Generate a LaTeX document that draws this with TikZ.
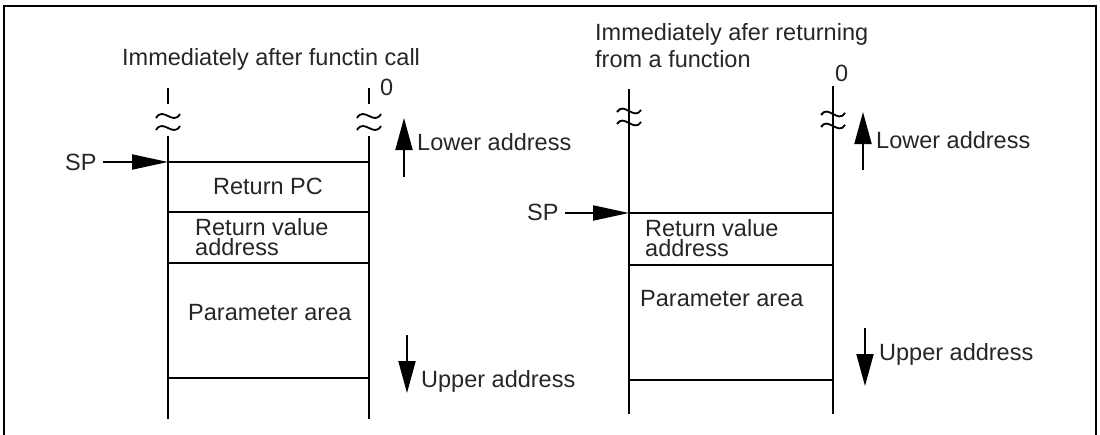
\documentclass[tikz,border=0pt]{standalone}
\usepackage{fontspec}
\setmainfont{Liberation Sans}
\usetikzlibrary{arrows.meta}
\begin{document}
\begin{tikzpicture}[x=1pt,y=-1pt,
  txt/.style={inner sep=0pt,anchor=base west,font=\fontsize{23.5}{20}\selectfont,text=black!85},
  mtxt/.style={inner sep=0pt,anchor=base west,align=left,font=\fontsize{23.5}{20}\selectfont,text=black!85},
  ctxt/.style={inner sep=0pt,anchor=base,font=\fontsize{23.5}{20}\selectfont,text=black!85},
  wall/.style={line width=2pt},
  rule/.style={line width=1.8pt},
  wav/.style={line width=1.8pt},
  bigarrow/.style={line width=2pt,-{Triangle[length=36pt,width=15pt]}},
  tinyarrow/.style={line width=2pt,-{Triangle[length=32pt,width=17pt]}}]
\useasboundingbox (0,0) rectangle (1100,434);
% frame
\coordinate (f1) at (4,440);
\coordinate (f2) at (4,6);
\coordinate (f3) at (1096,6);
\coordinate (f4) at (1096,440);
\draw[line width=2.2pt] (f1) -- (f2) -- (f3) -- (f4);

% ---------- left diagram ----------
\node[txt] (t1) at (122,65) {Immediately after functin call};
\node[txt] (z1) at (380,95) {0};
\coordinate (la0) at (168,88);
\coordinate (la1) at (168,104);
\coordinate (la2) at (168,136);
\coordinate (la3) at (168,419);
\coordinate (ra0) at (369,88);
\coordinate (ra1) at (369,104);
\coordinate (ra2) at (369,136);
\coordinate (ra3) at (369,419);
\draw[wall] (la0) -- (la1) (la2) -- (la3);
\draw[wall] (ra0) -- (ra1) (ra2) -- (ra3);
\foreach \xx in {168,369}{
  \draw[wav] (\xx-12,118) .. controls (\xx-5,106) and (\xx+5,126) .. (\xx+12,114);
  \draw[wav] (\xx-12,130) .. controls (\xx-5,118) and (\xx+5,138) .. (\xx+12,126);
}
\coordinate (lh1a) at (168,162); \coordinate (lh1b) at (369,162);
\coordinate (lh2a) at (168,212); \coordinate (lh2b) at (369,212);
\coordinate (lh3a) at (168,263); \coordinate (lh3b) at (369,263);
\coordinate (lh4a) at (168,378); \coordinate (lh4b) at (369,378);
\draw[rule] (lh1a) -- (lh1b) (lh2a) -- (lh2b) (lh3a) -- (lh3b) (lh4a) -- (lh4b);
\node[txt] (sp1) at (65,170) {SP};
\coordinate (sp1s) at (103,162);
\draw[bigarrow] (sp1s) -- (lh1a);
\node[ctxt] (rpc) at (268,194) {Return PC};
\node[mtxt] (rva) at (195,255) {Return value\\address};
\node[txt] (pa1) at (188,320) {Parameter area};
\coordinate (lu0) at (404,177); \coordinate (lu1) at (404,118);
\draw[tinyarrow] (lu0) -- (lu1);
\node[txt] (lo1) at (417,150) {Lower address};
\coordinate (ld0) at (407,335); \coordinate (ld1) at (407,393);
\draw[tinyarrow] (ld0) -- (ld1);
\node[txt] (up1) at (421,387) {Upper address};

% ---------- right diagram ----------
\node[mtxt] (t2) at (595,67) {Immediately afer returning\\[4pt]from a function};
\node[txt] (z2) at (835,81) {0};
\coordinate (lb0) at (629,89);
\coordinate (lb1) at (629,414);
\coordinate (rb0) at (833,86);
\coordinate (rb1) at (833,414);
\draw[wall] (lb0) -- (lb1);
\draw[wall] (rb0) -- (rb1);
\draw[wav] (617,112) .. controls (624,101) and (634,121) .. (641,110);
\draw[wav] (617,124) .. controls (624,113) and (634,133) .. (641,122);
\draw[wav] (821,115) .. controls (828,104) and (838,124) .. (845,113);
\draw[wav] (821,127) .. controls (828,116) and (838,136) .. (845,125);
\coordinate (rh1a) at (629,213); \coordinate (rh1b) at (833,213);
\coordinate (rh2a) at (629,265); \coordinate (rh2b) at (833,265);
\coordinate (rh3a) at (629,380); \coordinate (rh3b) at (833,380);
\draw[rule] (rh1a) -- (rh1b) (rh2a) -- (rh2b) (rh3a) -- (rh3b);
\node[txt] (sp2) at (527,220) {SP};
\coordinate (sp2s) at (565,213);
\draw[bigarrow] (sp2s) -- (rh1a);
\node[mtxt] (rvb) at (645,256) {Return value\\address};
\node[txt] (pa2) at (640,306) {Parameter area};
\coordinate (ru0) at (863,170); \coordinate (ru1) at (863,112);
\draw[tinyarrow] (ru0) -- (ru1);
\node[txt] (lo2) at (876,148) {Lower address};
\coordinate (rd0) at (865,328); \coordinate (rd1) at (865,386);
\draw[tinyarrow] (rd0) -- (rd1);
\node[txt] (up2) at (879,360) {Upper address};
\end{tikzpicture}
\end{document}
